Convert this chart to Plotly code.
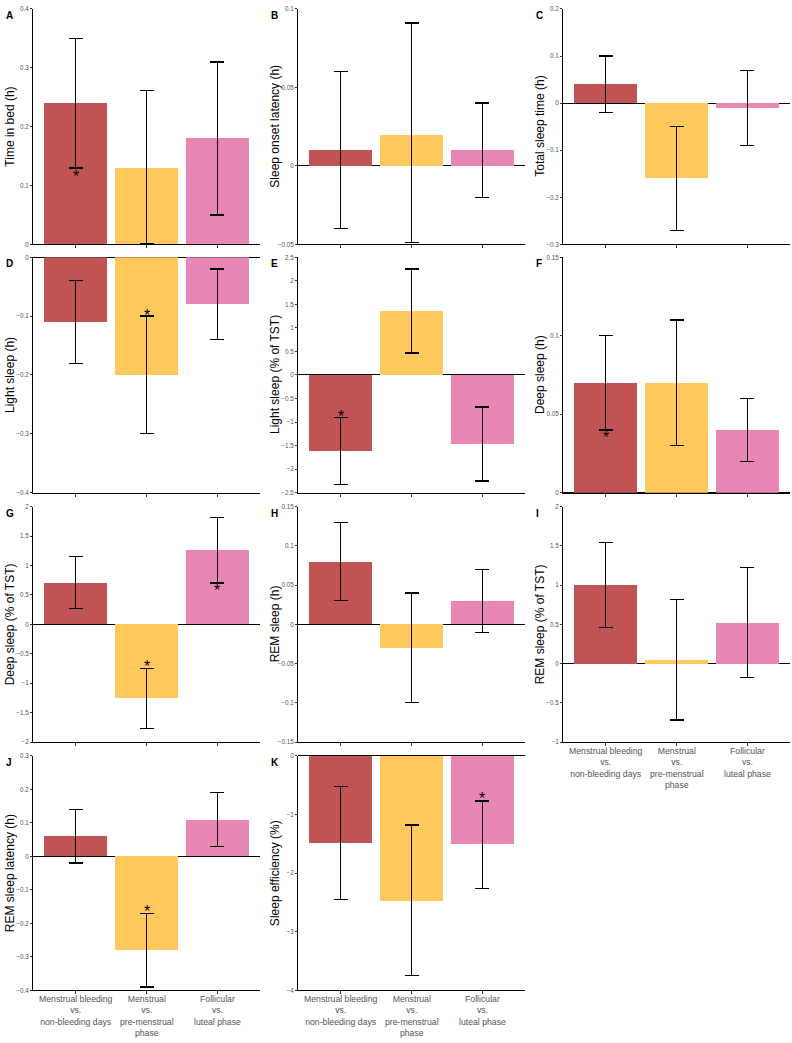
import plotly.graph_objects as go

W, H = 792, 1043

categories = ["Menstrual bleeding<br>vs.<br>non-bleeding days",
              "Menstrual<br>vs.<br>pre-menstrual<br>phase",
              "Follicular<br>vs.<br>luteal phase"]
bar_colors = ["#C05454", "#FEC85C", "#E987B4"]

# estimate, lower CI, upper CI, asterisk position (None = not significant)
time_in_bed = [0.24, 0.13, 0.18]
time_in_bed_lo = [0.13, 0.002, 0.05]
time_in_bed_hi = [0.35, 0.262, 0.31]
time_in_bed_star = [0.12, None, None]

onset_latency = [0.01, 0.02, 0.01]
onset_latency_lo = [-0.04, -0.049, -0.02]
onset_latency_hi = [0.06, 0.091, 0.04]
onset_latency_star = [None, None, None]

total_sleep = [0.04, -0.16, -0.01]
total_sleep_lo = [-0.02, -0.27, -0.09]
total_sleep_hi = [0.10, -0.05, 0.07]
total_sleep_star = [None, None, None]

light_h = [-0.11, -0.20, -0.08]
light_h_lo = [-0.18, -0.30, -0.14]
light_h_hi = [-0.04, -0.10, -0.02]
light_h_star = [None, -0.093, None]

light_pct = [-1.62, 1.36, -1.46]
light_pct_lo = [-2.32, 0.47, -2.25]
light_pct_hi = [-0.91, 2.25, -0.68]
light_pct_star = [-0.81, None, None]

deep_h = [0.07, 0.07, 0.04]
deep_h_lo = [0.04, 0.03, 0.02]
deep_h_hi = [0.10, 0.11, 0.06]
deep_h_star = [0.037, None, None]

deep_pct = [0.71, -1.26, 1.26]
deep_pct_lo = [0.27, -1.77, 0.70]
deep_pct_hi = [1.15, -0.75, 1.82]
deep_pct_star = [None, -0.67, 0.62]

rem_h = [0.08, -0.03, 0.03]
rem_h_lo = [0.03, -0.10, -0.01]
rem_h_hi = [0.13, 0.04, 0.07]
rem_h_star = [None, None, None]

rem_pct = [1.00, 0.05, 0.52]
rem_pct_lo = [0.46, -0.72, -0.18]
rem_pct_hi = [1.54, 0.82, 1.22]
rem_pct_star = [None, None, None]

rem_latency = [0.06, -0.28, 0.11]
rem_latency_lo = [-0.02, -0.39, 0.03]
rem_latency_hi = [0.14, -0.17, 0.19]
rem_latency_star = [None, -0.157, None]

efficiency = [-1.49, -2.47, -1.51]
efficiency_lo = [-2.45, -3.75, -2.26]
efficiency_hi = [-0.52, -1.18, -0.77]
efficiency_star = [None, None, -0.68]

panels = [
    ("A", "Time in bed (h)", time_in_bed, time_in_bed_lo, time_in_bed_hi, time_in_bed_star, (0, 0.4), 0.1),
    ("B", "Sleep onset latency (h)", onset_latency, onset_latency_lo, onset_latency_hi, onset_latency_star, (-0.05, 0.1), 0.05),
    ("C", "Total sleep time (h)", total_sleep, total_sleep_lo, total_sleep_hi, total_sleep_star, (-0.3, 0.2), 0.1),
    ("D", "Light sleep (h)", light_h, light_h_lo, light_h_hi, light_h_star, (-0.4, 0), 0.1),
    ("E", "Light sleep (% of TST)", light_pct, light_pct_lo, light_pct_hi, light_pct_star, (-2.5, 2.5), 0.5),
    ("F", "Deep sleep (h)", deep_h, deep_h_lo, deep_h_hi, deep_h_star, (0, 0.15), 0.05),
    ("G", "Deep sleep (% of TST)", deep_pct, deep_pct_lo, deep_pct_hi, deep_pct_star, (-2, 2), 0.5),
    ("H", "REM sleep (h)", rem_h, rem_h_lo, rem_h_hi, rem_h_star, (-0.15, 0.15), 0.05),
    ("I", "REM sleep (% of TST)", rem_pct, rem_pct_lo, rem_pct_hi, rem_pct_star, (-1, 2), 0.5),
    ("J", "REM sleep latency (h)", rem_latency, rem_latency_lo, rem_latency_hi, rem_latency_star, (-0.4, 0.3), 0.1),
    ("K", "Sleep efficiency (%)", efficiency, efficiency_lo, efficiency_hi, efficiency_star, (-4, 0), 1),
]
labelled = {"I", "J", "K"}

# plot areas in pixels (left, right) / (top, bottom)
cols_px = [(33, 260), (298, 525), (563, 790)]
rows_px = [(5, 242), (255, 492), (506, 743), (757, 993)]

FONT = "Liberation Sans, Arial, sans-serif"
GREY = "#555555"
x = [1, 2, 3]


def fmt(v):
    s = ("%.4f" % v).rstrip("0").rstrip(".")
    if s in ("-0", ""):
        s = "0"
    return s.replace("-", "\u2212")


fig = go.Figure()
annotations = []
for i, (letter, ytitle, est, lo, hi, star, yr, dt) in enumerate(panels):
    r, c = divmod(i, 3)
    n = "" if i == 0 else str(i + 1)
    xa, ya = "x" + n, "y" + n
    x0, x1 = cols_px[c]
    t0, t1 = rows_px[r]

    fig.add_trace(go.Bar(
        x=x, y=est, width=0.9, marker=dict(color=bar_colors, line=dict(width=0)),
        error_y=dict(type="data", symmetric=False,
                     array=[h - e for h, e in zip(hi, est)],
                     arrayminus=[e - l for e, l in zip(est, lo)],
                     color="black", thickness=1.3, width=7),
        xaxis=xa, yaxis=ya, showlegend=False, hoverinfo="skip"))

    for xi, s in zip(x, star):
        if s is not None:
            annotations.append(dict(
                text="*", xref=xa, yref=ya, x=xi, y=s, yshift=-3,
                xanchor="center", yanchor="middle", showarrow=False,
                font=dict(size=16, color="black", family=FONT)))

    nt = int(round((yr[1] - yr[0]) / dt))
    tickvals = [round(yr[0] + k * dt, 4) for k in range(nt + 1)]
    fig.layout["xaxis" + n] = dict(
        domain=[x0 / W, x1 / W], anchor=ya, range=[0.4, 3.6],
        tickvals=x, ticktext=["", "", ""],
        ticks="outside", ticklen=3, tickwidth=1, tickcolor="#333",
        showline=True, linecolor="black", linewidth=1, showgrid=False, zeroline=False,
        fixedrange=True)
    fig.layout["yaxis" + n] = dict(
        domain=[1 - t1 / H, 1 - t0 / H], anchor=xa, range=list(yr),
        tickvals=tickvals, ticktext=[fmt(v) for v in tickvals],
        ticks="outside", ticklen=2, tickwidth=1, tickcolor="#333",
        showline=True, linecolor="black", linewidth=1, showgrid=False,
        zeroline=True, zerolinecolor="black", zerolinewidth=1,
        tickfont=dict(size=6.3, color=GREY, family=FONT), fixedrange=True)

    if letter in labelled:
        for xi, cat in zip(x, categories):
            annotations.append(dict(
                text=cat, xref=xa, yref="paper", x=xi, y=1 - (t1 + 3) / H,
                xanchor="center", yanchor="top", showarrow=False, borderpad=0,
                font=dict(size=8.7, color=GREY, family=FONT)))

    annotations.append(dict(
        text="<b>%s</b>" % letter, xref="paper", yref="paper",
        x=(x0 - 29) / W, y=1 - (t0 - 1) / H, xanchor="left", yanchor="top",
        showarrow=False, font=dict(size=10, color="black", family=FONT)))
    annotations.append(dict(
        text=ytitle, xref="paper", yref="paper", textangle=-90,
        x=(x0 - 23) / W, y=1 - (t0 + t1) / 2 / H, xanchor="center", yanchor="middle",
        showarrow=False, font=dict(size=12, color="black", family=FONT)))

fig.update_layout(
    width=W, height=H, margin=dict(l=0, r=0, t=0, b=0),
    paper_bgcolor="white", plot_bgcolor="white",
    font=dict(family=FONT), annotations=annotations, bargap=0)

fig.write_html("out.html", config={"displayModeBar": False, "staticPlot": True},
               post_script="document.body.style.margin='0';")
